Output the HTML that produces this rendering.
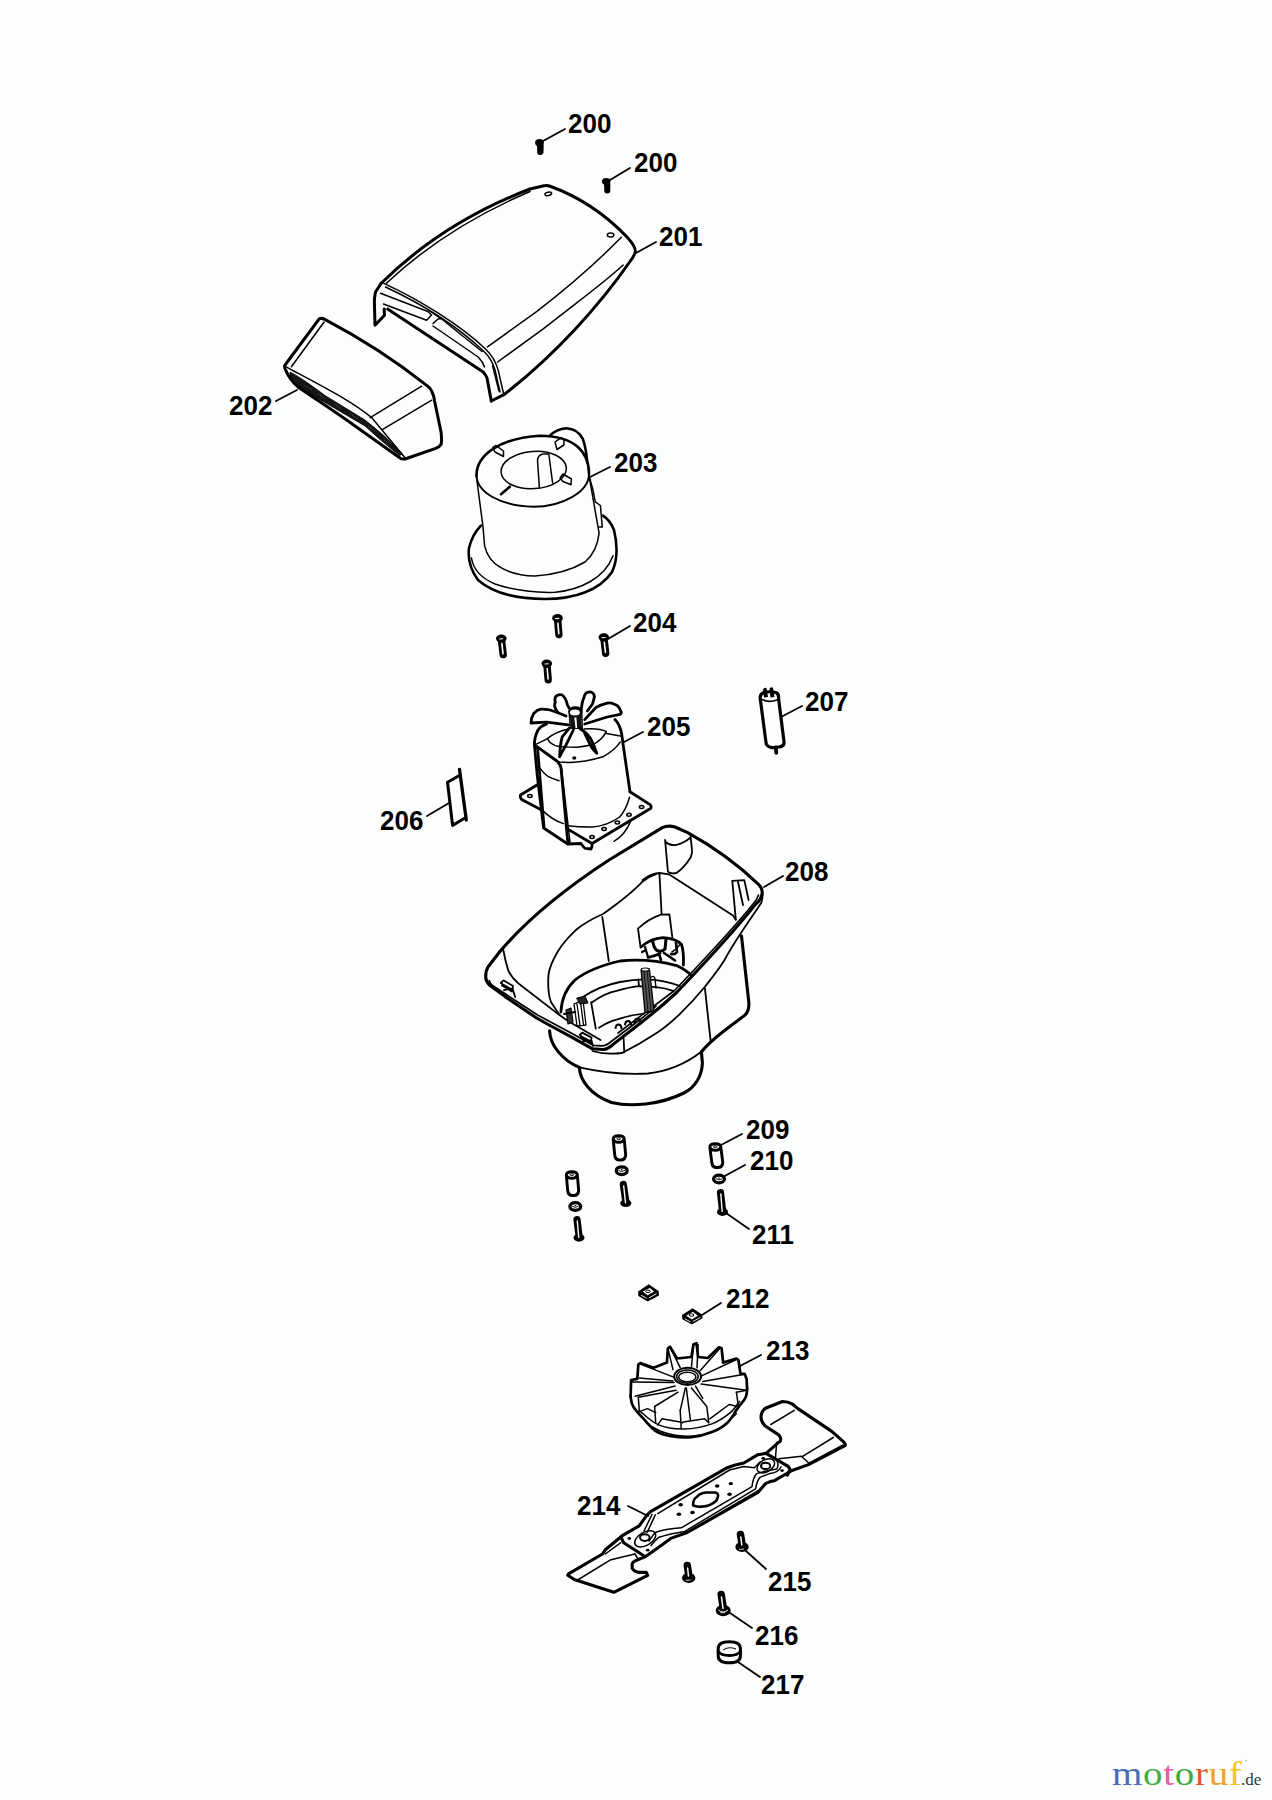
<!DOCTYPE html>
<html><head><meta charset="utf-8"><style>
html,body{margin:0;padding:0;background:#fbfefc;width:1272px;height:1800px;overflow:hidden}
svg{position:absolute;left:0;top:0}
.lb{font-family:"Liberation Sans",sans-serif;font-weight:bold;font-size:26px;fill:#000}
.k{fill:none;stroke:#000;stroke-linecap:round;stroke-linejoin:round}
</style></head><body>
<svg width="1272" height="1800" viewBox="0 0 1272 1800">

<!-- 200 screws -->
<g fill="#000" stroke="none">
<ellipse cx="539.5" cy="142.8" rx="4.4" ry="3.7"/>
<path d="M537 144.5 L543.7 144.5 L543.5 152.5 Q543 155 540.3 155 Q537.3 155 537.2 152.5 Z"/>
<ellipse cx="606.2" cy="181.4" rx="4.2" ry="3.4"/>
<path d="M604 183 L610.3 183 L610.3 191 Q610 193.5 607.2 193.5 Q604.5 193.5 604.3 191 Z"/>
</g>
<!-- 201 cover -->
<g class="k" stroke-width="3">
<path d="M381.3 283.2 C420 245 470 212 530 189 L544 185.7 Q547 185 549.5 186 C580 197 605 214 627 237 Q637 248 635 253 Q633 258 630.7 260.5 C600 305 555 355 503.9 394.7 L491.3 401"/>
<path d="M381.3 283.2 L375.5 292 Q374.2 298 374.4 303 L375 325.3 L384.5 315.3 L384.2 309"/>
<path d="M387.6 309 L483.2 371.9 Q486 375 487 378 L491.3 401"/>
</g>
<g class="k" stroke-width="1.5">
<path d="M386.4 283.2 C425 247 475 215 530 191.5"/>
<path d="M383.8 283.4 C420 300 460 325 485.8 349.2 Q495 358 498.3 370.6 L503.4 393"/>
<path d="M385.5 287 C422 304 458 327 483.5 351 Q492 359 495 370 L500 392"/>
<path d="M380.5 293.2 L427.9 311.5 L431.5 315 L426.6 320.3 L383.5 304"/>
<path d="M433 323.5 L438 319 L441 318.5 L482 351.5"/>
<path d="M433 326 L478.2 357 Q483 362 484.5 367"/>
<path d="M429 310.5 L435 314.5 L440.5 318.4"/>
<path d="M621.3 237.3 C605 254 575 282 536.6 311.6 L487.5 346.9"/>
<path d="M623.1 265 C605 282 580 300 542.9 329.2 L497.6 362"/>
<path d="M492.6 365.7 L498.9 390.9"/>
<ellipse cx="548.3" cy="193.9" rx="3.4" ry="1.6" transform="rotate(-12 548.3 193.9)"/>
<ellipse cx="610.6" cy="235.1" rx="3.3" ry="2"/>
</g>
<!-- 202 grille -->
<g class="k" stroke-width="3">
<path d="M319.4 318.7 Q322 317.8 324.8 319.4 C360 338 392 358 425 384.2 Q431 388 432 392 Q434 396 434.4 400.2 L441.1 432.3 Q442 441 441.1 444.4 Q439.5 447 435.7 448.4 L405 459 Q401.5 459.5 399.7 457.7 L358.2 428.3 C340 415 320 402 298 386.9 Q290 380 286 370.8 Q284 367 284.7 365.5 Z"/>
</g>
<g class="k" stroke-width="1.5">
<path d="M291.4 366.8 L324.1 322"/>
<path d="M286 366.8 C320 385 350 400 371.6 417.6 L405 457.7"/>
<path d="M370.2 417.6 L421.7 386.2"/>
<path d="M382.3 429.6 L431.7 400.2"/>
</g>
<path d="M290 372 C300 377 315 388 325 395.5 L365 420 Q385 435 402.5 454 L399.5 455.5 Q380 440 365 426 L325 402.5 C312 395 300 388 293 381 Q289 376 290 372 Z" fill="#151515" stroke="#000" stroke-width="0.8"/>
<path d="M305 386 L312 390 M318 394 L326 399 M334 404 L342 409 M350 414 L358 419 M368 426 L375 431 M384 440 L390 445" stroke="#666" stroke-width="0.9" stroke-dasharray="1 1.5"/>
<!-- 203 housing -->
<g class="k" stroke-width="2.6">
<path d="M476.5 476 C476 455 500 438 540 435.7 C575 436 589 452 589 474"/>
<path d="M550 435.7 Q556 429 566.4 428.2 Q578 429 582.8 438.9 Q586 448 587 460"/>
<path d="M480.9 525.7 Q472 535 469 548 Q467 565 478 580 C495 595 520 599 545 599 C575 599 600 590 612 572 Q620 555 614 530 Q610 520 603 515.6"/>
</g>
<g class="k" stroke-width="1.5">
<path d="M476.5 477 L483 527 L484.6 545.8 Q488 560 500 567.2 Q515 576 535 576 Q565 574 585 562 Q597 552 599.1 533.2 L589 475.3"/>
<path d="M589 476 L592.8 489.2 L595.3 501.8 L600.4 505.5 L602.3 526.9 L599.1 526.9"/>
<ellipse cx="533.7" cy="470" rx="32.7" ry="18.6" transform="rotate(-4 533.7 470)"/>
<path d="M471.5 558 Q474 575 495 584 C515 591 540 593 555 592.3 C580 590 605 578 613 555.8"/>
<path d="M539.4 487.9 L537.5 460.3 Q538 455 543 454 L548.8 454 L552.6 482.9"/>
<path d="M492.8 447.5 L496 445.5 L503.5 451 L503.5 456.5 L495 452 Z"/>
<path d="M555 442 L561 437.6 L564 440 L563.9 445 L557 449.5 Z"/>
<path d="M560.1 478 L563 474 L571.4 479 L571 484.8 L563 481.5 Z"/>
<path d="M589 474 C589 492 562 506.8 533.7 506.8 C500 506 476.5 492 476.5 475" stroke-width="1.9"/>
<path d="M501 494.2 L509.8 486.7" stroke-width="2.6"/>
</g>
<!-- 204 screws -->
<g id="scr">
<g><path d="M501.3 638.6 L503.2 654.6" stroke="#000" stroke-width="7.4" stroke-linecap="round"/>
<path d="M501.9 643.4 L503.0 653.8" stroke="#fff" stroke-width="1.6" stroke-linecap="round"/>
<ellipse cx="501.3" cy="638.6" rx="5.3" ry="4.1" fill="#000"/>
<path d="M499.1 639.0 L503.1 638.8000000000001" stroke="#fff" stroke-width="1.1"/></g>
<g><path d="M557.5 618.2 L558.9 634.5" stroke="#000" stroke-width="7.4" stroke-linecap="round"/>
<path d="M557.9 623.1 L558.8 633.7" stroke="#fff" stroke-width="1.6" stroke-linecap="round"/>
<ellipse cx="557.5" cy="618.2" rx="5.3" ry="4.1" fill="#000"/>
<path d="M555.3 618.6 L559.3 618.4000000000001" stroke="#fff" stroke-width="1.1"/></g>
<g><path d="M546.8 663.6 L548.2 679.8" stroke="#000" stroke-width="7.4" stroke-linecap="round"/>
<path d="M547.2 668.5 L548.1 679.0" stroke="#fff" stroke-width="1.6" stroke-linecap="round"/>
<ellipse cx="546.8" cy="663.6" rx="5.3" ry="4.1" fill="#000"/>
<path d="M544.5999999999999 664.0 L548.5999999999999 663.8000000000001" stroke="#fff" stroke-width="1.1"/></g>
<g><path d="M603.8 637.3 L605.7 653.3" stroke="#000" stroke-width="7.4" stroke-linecap="round"/>
<path d="M604.3 642.1 L605.5 652.5" stroke="#fff" stroke-width="1.6" stroke-linecap="round"/>
<ellipse cx="603.8" cy="637.3" rx="5.3" ry="4.1" fill="#000"/>
<path d="M601.5999999999999 637.6999999999999 L605.5999999999999 637.5" stroke="#fff" stroke-width="1.1"/></g>
</g>
<!-- 205 motor -->
<path d="M568.4 712 L569.5 729 L583 729 L582.5 712 Z" fill="#111"/>
<path d="M574.3 717.5 L575.5 728 L577.2 728 L576.4 717.5 Z" fill="#fff"/>
<ellipse cx="575.4" cy="711.3" rx="7.2" ry="5" fill="#000"/>
<ellipse cx="574.9" cy="712.5" rx="5" ry="2.9" fill="#fff"/>
<path d="M570 718 L570.6 726 M581.3 718 L581.6 726" stroke="#777" stroke-width="0.8" stroke-dasharray="1 1.5"/>
<g class="k" stroke-width="2.8">
<path d="M557.9 712.7 Q553 706 555.3 702.3 Q554 697 557 695.4 Q560 694 562.2 695 Q566 698 567.4 704.9 L569.1 708"/>
<path d="M581.2 710 Q582 702 583.8 698 Q585 693 587.3 692.4 Q591 691 592.5 692.8 Q595 695 594.2 698 Q593 702 592.5 704 L587.3 711"/>
<path d="M568.3 724.8 L546.6 722.2 L531 723 Q531 718 533.7 713.5 Q537 710 540.6 709.2 Q545 709 550.1 710 L557.9 712.7 L566 716"/>
<path d="M584.7 724 L607.2 717 L620.2 714.4 Q622 712 621 711.8 Q619 706 615.8 704.9 Q611 702 607.2 703.2 Q600 705 595.9 707.5 L584.7 719.6"/>
<path d="M569.1 728.3 L562.2 736.9 Q560 745 559.6 756.8 Q562 752 565.7 745.6 L573.4 730"/>
<path d="M579.5 728.3 Q586 732 590.7 738.6 Q594 745 596.8 753.3 Q592 749 590.7 745.6 L584.7 733.4"/>
<path d="M534.5 745.6 Q534 738 538 730 Q541 726 546.6 723.9"/>
<path d="M615 719.6 Q620 724 621.9 735.2 L622.9 743.3 L630 791.7"/>
<path d="M534.5 745.6 L537.2 775 L543.6 828 L567.8 844 L581 843.5 Q584 848 585.4 848.4 L591 849 Q592.5 846 592 843.5 L650.9 808.2 Q651.5 806 650.4 804.9 L630 791.7"/>
<path d="M537 785 L520.5 795 Q520 798 521.6 799.4 L542.5 810.4"/>
<path d="M537 746.6 L556.8 761 Q560 764 561 768 L567.8 842.4"/>
<path d="M567.8 829.1 L592 843.5"/>
<path d="M537.5 747.5 L544 827"/>
</g>
<g class="k" stroke-width="1.5">

<path d="M547.5 738.6 Q555 732 568.3 729 M584 729 Q600 728 606.3 731.7 Q602 740 594.2 743.8 Q585 747 576.9 747.3 Q560 747 555.3 745.6 Q549 743 547.5 738.6"/>
<path d="M535.4 744.7 L547.5 738.6 M606.3 733.4 L620.2 736"/>
<path d="M534.5 745.6 C545 752 552 758 559.6 762 Q580 764 602.9 756.8 Q615 750 620.2 742.1"/>
<path d="M561.2 765.3 L570 842.4"/>
<path d="M538.7 766.4 Q544 774 548 776.3 Q553 779 559 780.7"/>
<path d="M542.5 810.4 Q552 820 563.4 823.6"/>
<path d="M629.5 797.2 Q626 810 619.6 817 Q607 826 592 827 Q578 827 567.8 825.8"/>
<path d="M630.6 821.4 Q625 835 614 841.3"/>
<ellipse cx="529.9" cy="796.1" rx="2.2" ry="1.5"/>
<ellipse cx="641.6" cy="807.1" rx="2.2" ry="1.5"/>
<ellipse cx="629" cy="814.8" rx="2.2" ry="1.5"/>
<ellipse cx="617.4" cy="822.5" rx="2.2" ry="1.5"/>
<ellipse cx="604.1" cy="829.1" rx="2.2" ry="1.5"/>
<ellipse cx="592" cy="836.9" rx="2.2" ry="1.5"/>
<ellipse cx="574.3" cy="758.1" rx="1.3" ry="1" fill="#000"/>
</g>
<!-- 206 -->
<g class="k" stroke-width="3">
<path d="M458.5 776 L447.5 782.3 L452.6 825.4 L464.5 818.3"/>
<path d="M459.5 769.5 L466.3 820" stroke-width="3.3"/>
</g>
<!-- 207 -->
<g class="k" stroke-width="3.2">
<path d="M760.3 699 Q759.5 694 764 692.5 Q770 691 776 692.5 Q779 694 778.5 698 L784 741.7 Q784.5 746 780 746.8 Q775 748 771 747.3 Q766.5 746.5 766 742.6 Z"/>
<path d="M775.8 747.5 L776.3 752.8" stroke-width="3.8"/>
</g>
<g class="k" stroke-width="1.6">
<path d="M762.2 699.5 Q768 703 777 700"/>
</g>
<g fill="#000">
<path d="M763 689.5 Q764.5 687 766.5 688 L768 697 L764 697.5 Z"/>
<path d="M769.5 688.5 Q771.5 686.5 773 688 L774.5 697 L770.5 697.5 Z"/>
</g>
<!-- 208 housing -->
<g class="k" stroke-width="3.1">
<path d="M485.7 977.7 Q485.5 971 488 967 L500.1 951.3 C525 922 560 892 609 860 L662.3 827.7 Q668 825 675 827 L687.7 832.7 C710 845 735 862 758.5 884.3 Q763 889 762 894 Q761 900 755.7 904.1 C735 930 700 968 676.6 992.5 Q660 1008 640 1023.4 L613.7 1043.9 Q608 1049.5 603.1 1049.5 L592.5 1048.8 L571.2 1036.8 L550 1025.5 L536.6 1018 L505.2 996.6 L490 985.5 Q486 982 485.7 977.7 Z"/>
<path d="M579.3 1067.4 C580 1080 590 1095 611.5 1102.5 C630 1107 660 1105 683.8 1093 C696 1087 702 1075 702.4 1063 L701.4 1051.9"/>
<path d="M549.6 1030.7 C550 1045 562 1060 579.3 1067.4"/>
<path d="M741.5 936 L748.8 1002 Q749.5 1011 745 1015 C730 1027 712 1038 701.4 1052"/>
</g>
<g class="k" stroke-width="1.8">
<path d="M489.2 980.5 Q490 983.5 492.5 985.5 L507 995 L538 1015.2 L551.5 1022.6 L572.5 1033.8 L593 1045.3 L602.5 1045.8 Q607.5 1045.5 611.5 1041.2 L638.5 1020.8 Q650 1012 656 1006" stroke-width="1.7"/>
<path d="M758.5 895 Q757 900 753 904 C733 929 698 966 674.5 990.5 L618 1033" stroke-width="1.6"/>
<path d="M762.7 894.2 Q762.5 899 761.3 902.7 C750 920 735 940 724.5 960 C717 972 710 980 704.9 986.8 C690 1005 670 1025 655 1034 Q640 1044 622 1053 Q605 1055 592.5 1051"/>
<path d="M623.6 1038.2 L624.3 1052.4"/>
<path d="M579.3 1067.4 C600 1072 625 1075 648 1073.5 C670 1071 688 1062 701 1052"/>
<path d="M503.3 950 Q505 960 508.5 971.2 Q512 978 518.5 983.5 L559.5 1015.1 L568 1021 L600.5 1040"/>
<path d="M656 874.2 Q648 877 643 881.2 Q630 895 603.4 913.8 Q585 922 575 930.8 Q560 945 553.8 959 Q548 970 548.2 980.3 Q548 995 551 1002 L559.5 1015"/>
<path d="M642.5 880.1 Q650 874 659.4 873 L669.3 874.4 L733 915.5 L735.8 919.7"/>
<path d="M602.3 916.8 L608.8 961"/>
<path d="M659.4 873 L661.6 914"/>
<path d="M704.9 988.2 L710.6 1040.6"/>
<path d="M583.6 996.5 Q600 986 620 982 Q645 977 663.8 981.4 Q672 983 680 986"/>
<path d="M592.1 1002.2 Q605 993 616.6 990.8 Q630 987 638.3 986.1 L656.2 987.1 Q665 988 673.2 990.8"/>
<path d="M591.1 1002.2 L595.8 1028.6 M638.3 979.5 L639 986"/>
<path d="M599.1 1027.8 Q607 1022 617.5 1019.3 Q630 1015 644 1013.7"/>
<path d="M665.1 839.8 L667.9 871.6 Q670 874 676.4 873 Q684 868 690.6 857.5 Q692.5 852 692 850.4 L690.6 836.2"/>
<path d="M665.5 842 Q670 846 676 845 Q684 843 690 838"/>
<path d="M732.3 880.8 L744.3 880.1 L748.6 900 M732.3 880.8 L735.8 919.7 M738 882 L743 905"/>
<path d="M638 928.7 L640.5 946.8 M638 928.7 Q648 919 660.8 914.6 L669.4 914.4 L672.4 938"/>
<path d="M500.8 983 L503.5 980.3 L513 986 L512.5 990 L503 984.5 Z M502 985.5 L512 991.5 M504 990 L512.5 988.5 L515.2 997"/>
<path d="M579.7 1035 L582.2 1032.6 L591.5 1037.6 L591 1041.5 L582 1036.8 Z M581 1037.8 L590.5 1043 M583 1041 L591.5 1040.5 L593 1046"/>
<path d="M615.5 1028 Q616 1024.5 618.5 1024.5 Q621 1024.5 621.5 1028 M625 1024.5 Q625.5 1021 628 1021 Q630.5 1021 631 1024.5" stroke-width="2"/>
<path d="M634.5 1023 Q635 1019 637.5 1019 Q640 1019 640.5 1022" stroke-width="2.4"/>
</g>
<g class="k" stroke-width="2.8">
<path d="M560.9 1012 Q562 992 575 980 Q590 968 620 961 Q648 958 676.6 965.6 Q686 970 692 976"/>
<path d="M641 947 Q650 939 663 937.7 Q676 938.5 681.5 944.5 Q684 952 683.4 965"/>
<path d="M652.5 940 Q653.5 948 657 950.5 Q662 952.5 665 949 L666 939" stroke-width="3"/>
<path d="M676 942.5 L677 952 Q675 955 671 954" stroke-width="2.6"/>
<path d="M645 947 L648 957 M642 952 L646 950" stroke-width="2.2"/>
<path d="M648 957.5 Q655 956 660 953.5 M664 953 L670 957 L675 960.5 M659 954 L661 960" stroke-width="2.6"/>
<path d="M672 952 Q678 948 680 944" stroke-width="1.6"/>
</g>
<g class="k" stroke-width="1.1">
<path d="M641.1 970 L649.4 969.2 L654 1011 L645 1012.5 Z" fill="#555" stroke-width="1.3"/>
<path d="M644 971 L648 1012 M647 970 L651 1011" stroke="#000" stroke-width="0.8"/>
<ellipse cx="645.3" cy="969.6" rx="4" ry="1.6" fill="#fff" stroke-width="1.2"/>
<path d="M651.5 977 Q654 975 655 979 L656 988" stroke-width="1.4"/>
<path d="M566 1010 L571 1008 L573 1022 L568 1024 Z" fill="#333" stroke-width="1.2"/>
<path d="M574 1004 L583 1000 L586 1025 L577 1026 Z M577 1004 L580 1026 M580.5 1002 L583.5 1025" stroke-width="1.3"/>
<path d="M577 998 L585 996 L588 1003 L580 1004 Z" fill="#222" stroke-width="1"/>
<path d="M564 1014 L575 1012" stroke-width="2"/>

</g>
<!-- 209-211 -->
<g class="k" stroke-width="2.9">
<path d="M566.3 1175 L567.7 1190.5 Q568.2 1195.8 573.2 1195.47 Q578.2 1195.8 578.7 1190.5 L577.3 1175 Q577.3 1171.7 571.8 1171.7 Q566.3 1171.7 566.3 1175 Q567.3 1178.3 571.8 1178.3 Q576.3 1178.3 577.3 1175"/>
</g><ellipse cx="571.8" cy="1174.7" rx="1.8" ry="0.9" fill="none" stroke="#000" stroke-width="0.9"/>
<ellipse cx="575.3" cy="1206.5" rx="5.4" ry="3.9" fill="none" stroke="#000" stroke-width="3.3"/>
<path d="M572.0999999999999 1206.2 Q575.3 1208.5 578.5 1206.2" fill="none" stroke="#000" stroke-width="0.9"/>
<ellipse cx="575.3" cy="1205.6" rx="1" ry="0.7" fill="#000"/>
<g><path d="M577 1219.5 L579 1235.8" stroke="#000" stroke-width="7.2" stroke-linecap="round"/>
<ellipse cx="579" cy="1237.8" rx="5.5" ry="3.9" fill="#000"/>
<path d="M577.3 1221.0 L578.7 1237.3" stroke="#fff" stroke-width="1.4" stroke-linecap="round"/></g>
<g class="k" stroke-width="2.9">
<path d="M613.2 1139 L614.7 1155 Q615.2 1160.3 620.2 1159.97 Q625.2 1160.3 625.7 1155 L624.2 1139 Q624.2 1135.7 618.7 1135.7 Q613.2 1135.7 613.2 1139 Q614.2 1142.3 618.7 1142.3 Q623.2 1142.3 624.2 1139"/>
</g><ellipse cx="618.7" cy="1138.7" rx="1.8" ry="0.9" fill="none" stroke="#000" stroke-width="0.9"/>
<ellipse cx="621.7" cy="1170.7" rx="5.4" ry="3.9" fill="none" stroke="#000" stroke-width="3.3"/>
<path d="M618.5 1170.4 Q621.7 1172.7 624.9000000000001 1170.4" fill="none" stroke="#000" stroke-width="0.9"/>
<ellipse cx="621.7" cy="1169.8" rx="1" ry="0.7" fill="#000"/>
<g><path d="M623.3 1184.5 L625.8 1201.2" stroke="#000" stroke-width="7.2" stroke-linecap="round"/>
<ellipse cx="625.8" cy="1203.2" rx="5.5" ry="3.9" fill="#000"/>
<path d="M623.7 1186.0 L625.5 1202.7" stroke="#fff" stroke-width="1.4" stroke-linecap="round"/></g>
<g class="k" stroke-width="2.9">
<path d="M709.8 1147 L711.8 1162.5 Q712.3 1167.8 717.3 1167.47 Q722.3 1167.8 722.8 1162.5 L720.8 1147 Q720.8 1143.7 715.3 1143.7 Q709.8 1143.7 709.8 1147 Q710.8 1150.3 715.3 1150.3 Q719.8 1150.3 720.8 1147"/>
</g><ellipse cx="715.3" cy="1146.7" rx="1.8" ry="0.9" fill="none" stroke="#000" stroke-width="0.9"/>
<ellipse cx="719" cy="1179" rx="5.4" ry="3.9" fill="none" stroke="#000" stroke-width="3.3"/>
<path d="M715.8 1178.7 Q719 1181 722.2 1178.7" fill="none" stroke="#000" stroke-width="0.9"/>
<ellipse cx="719" cy="1178.1" rx="1" ry="0.7" fill="#000"/>
<g><path d="M720.5 1192.5 L722.5 1210" stroke="#000" stroke-width="7.2" stroke-linecap="round"/>
<ellipse cx="722.5" cy="1212" rx="5.5" ry="3.9" fill="#000"/>
<path d="M720.8 1194.0 L722.2 1211.5" stroke="#fff" stroke-width="1.4" stroke-linecap="round"/></g>
<!-- 212 nuts -->
<g fill="#000">
<path d="M638.1 1291.6 L648.7 1284.2 L658.6 1290.9 L659 1295.5 L647.6 1301.5 L638.4 1295.9 Z"/>
<path d="M682 1315 L692.6 1308.3 L702.1 1314.6 L702.5 1318.2 L691.9 1324.5 L682.3 1319.2 Z"/>
</g>
<g fill="#fff">
<path d="M642.7 1291.6 L649.8 1288.1 L654 1291.6 L647.6 1295.2 Z"/>
<path d="M686.2 1315.7 L692.9 1311.8 L697.9 1315.7 L691.9 1319.6 Z"/>
</g>
<g fill="none" stroke="#000" stroke-width="1">
<ellipse cx="648" cy="1291.4" rx="2.3" ry="1.3"/>
<ellipse cx="691.5" cy="1315" rx="2.3" ry="1.3"/>
<path d="M641 1295.2 L646.5 1298.2 M649 1297.8 L656.5 1293.8 M684.8 1318.8 L690.3 1321.8 M693 1321.4 L700.5 1317.4" stroke="#fff" stroke-width="0.9"/>
</g>
<!-- 213 fan -->
<g class="k" stroke-width="2.7">
<path d="M630.6 1396.3 L631.1 1380.0 637.3 1378.9 638.3 1364.6 640.3 1363.1 653.6 1367.7 666.9 1362.6 667.9 1348.3 670.0 1346.8 677.1 1358.5 691.4 1357.0 693.5 1344.2 696.5 1343.2 698.1 1357.0 707.8 1358.0 719.0 1347.3 721.6 1348.3 723.1 1362.6 736.4 1358.5 738.4 1360.0 740.5 1373.8 744.6 1373.8 746.6 1378.9 747.1 1389.2"/>
<path d="M747.1 1389.2 C746.9 1390.5 747.2 1394.1 745.6 1397.3 C744.0 1400.6 740.5 1404.3 737.4 1408.6 C734.4 1412.8 731.5 1419.0 727.2 1422.9 C722.9 1426.8 717.8 1429.7 711.9 1432.1 C705.9 1434.5 698.2 1436.5 691.4 1437.2 C684.6 1437.9 677.0 1437.2 671.0 1436.2 C665.0 1435.2 659.9 1433.6 655.7 1431.1 C651.4 1428.5 649.2 1424.9 645.4 1420.8 C641.7 1416.8 635.6 1410.6 633.2 1406.5 C630.7 1402.5 631.0 1398.0 630.6 1396.3"/>
</g>
<g class="k" stroke-width="1.5">
<ellipse cx="687.6" cy="1376.4" rx="13.4" ry="8.6" stroke-width="2"/>
<ellipse cx="687.3" cy="1377" rx="8.6" ry="4.8"/>
<ellipse cx="687.4" cy="1376.6" rx="10.8" ry="6.6"/>
<path d="M667.9 1348.3 L673.0 1369.7"/>
<path d="M670.0 1346.8 L680.2 1367.7"/>
<path d="M693.5 1344.2 L691.4 1367.7"/>
<path d="M698.1 1344.7 L697.0 1367.7"/>
<path d="M720.0 1348.3 L700.1 1370.8"/>
<path d="M722.1 1349.3 L723.1 1362.6"/>
<path d="M736.4 1359.5 L701.6 1375.9"/>
<path d="M744.6 1374.3 L702.7 1381.5"/>
<path d="M746.6 1390.2 L701.1 1384.1"/>
<path d="M640.3 1364.1 L673.0 1376.9"/>
<path d="M639.3 1377.9 L673.0 1381.0"/>
<path d="M632.2 1382.0 L674.1 1382.5"/>
<path d="M635.2 1396.3 L675.1 1386.1"/>
<path d="M638.3 1397.3 L676.1 1390.2"/>
<path d="M639.3 1410.6 L638.3 1397.3"/>
<path d="M654.6 1406.5 L678.1 1392.2"/>
<path d="M654.6 1406.5 L655.7 1422.9"/>
<path d="M680.2 1410.6 L685.3 1388.1"/>
<path d="M680.2 1410.6 L681.2 1428.0"/>
<path d="M691.4 1388.1 L706.8 1406.5 708.8 1422.9"/>
<path d="M686.3 1388.1 L690.4 1419.8"/>
<path d="M695.5 1386.1 L702.7 1398.4"/>
<path d="M736.4 1392.2 L738.4 1406.5"/>
<path d="M746.6 1390.2 L736.4 1392.2"/>
<path d="M639.3 1411.6 L647.5 1408.6 655.7 1412.7"/>
<path d="M657.7 1424.9 L661.8 1418.8 680.2 1421.9"/>
<path d="M682.2 1422.9 L683.3 1421.9 704.7 1418.8 707.8 1421.9"/>
<path d="M709.8 1418.8 L729.2 1404.5 737.4 1406.5"/>
<path d="M639.3 1410.6 C642.5 1413.0 651.2 1421.9 658.7 1424.9 C666.2 1428.0 675.4 1429.2 684.3 1429.0 C693.1 1428.9 704.2 1426.6 711.9 1423.9 C719.5 1421.2 725.7 1416.4 730.3 1412.7 C734.9 1408.9 737.9 1403.3 739.5 1401.4"/>
<path d="M648.5 1424.9 C651.4 1426.3 658.7 1431.2 665.9 1433.1 C673.0 1435.0 682.9 1436.7 691.4 1436.2 C699.9 1435.7 709.5 1433.8 717.0 1430.0 C724.5 1426.3 733.2 1416.4 736.4 1413.7"/>
</g>
<!-- 214 blade -->
<g class="k" stroke-width="3.1">
<path d="M766 1453.4 L779 1442.2 Q782.5 1439.8 779 1435.1 L764.9 1425.7 Q760 1420 761.3 1415 Q762 1410 766 1408 L782.5 1401.5 Q788 1401.5 792 1403.8 L797.9 1408.6 L832.1 1431.6 L843.9 1442.2 Q846 1444.5 845 1445.7 L839.2 1448.7 L808.5 1464.6 L792 1470.5 L774.4 1480.7 Q768 1481.5 765 1484.2 L757.9 1492.5 L687.2 1532.5 L670.7 1538.4 L657.7 1547.9 L644.9 1556.9 L637.8 1559.7 Q632.5 1561.5 632.2 1564 L632.2 1568.2 Q634 1571.5 639.2 1572.4 L646.3 1572.4 L647.7 1575.3 L613.8 1592.3 L574.2 1579.5 L567.8 1575.3 L568.5 1573.9 L602.5 1554 L605.3 1549.8 L622.3 1535.7 L639.2 1525.8 L646.3 1515.8 L650.6 1511.6 L727.3 1467.7 L734.3 1465.3 L743.8 1463 L757.9 1454.7 Z"/>
<path d="M620.8 1537 L623.7 1542.7 L643.5 1555.5"/>
<path d="M766 1453.4 L787.3 1465.8 Q790.5 1468.5 789.6 1470.5 L787.3 1475.2"/>
</g>
<g class="k" stroke-width="1.5">
<path d="M770.8 1424.5 L794.3 1410.3"/>
<path d="M802.6 1456.3 L833.3 1437.5"/>
<path d="M779 1458.7 L801.4 1456.3 L808.5 1462.8"/>
<path d="M808.5 1463.5 L842.7 1445.1"/>
<path d="M776.7 1442.2 L775.5 1457.5"/>
<path d="M578.4 1579.5 L610.9 1559.7 L635 1554"/>
<path d="M605.3 1554 L620.8 1542.7"/>
<path d="M635 1554 L638 1559"/>
<path d="M657.7 1513.7 L729.6 1470 L743.8 1466.5 L754.4 1467.7 L760 1462"/>
<path d="M655.3 1514.9 L647.1 1532.5 M652 1514.5 L644 1531"/>
<path d="M649 1541 Q653 1535 655.3 1532.5 Q665 1529 681.3 1527.8 L752 1486.6 Q753 1478 756.7 1473.6 L765 1471.2 L776.8 1468.9 Q779 1465 777 1461"/>
<path d="M651 1545.5 Q655 1540 658.9 1537.3 Q670 1533.5 684.8 1531.4 L755.6 1488.9 Q757 1480 760.3 1477.1 L769.7 1473.6 Q778 1473 781 1467"/>
<path d="M684.8 1533.8 L757.9 1490.9" stroke-dasharray="1.2 1.6" stroke-width="1.8"/>
<ellipse cx="645.2" cy="1538.9" rx="11.5" ry="6.5" transform="rotate(-30 645.2 1538.9)"/>
<ellipse cx="765.8" cy="1465.9" rx="9.5" ry="6" transform="rotate(-30 765.8 1465.9)"/>
</g>
<g class="k" stroke-width="2">
<ellipse cx="644.8" cy="1537.6" rx="4.8" ry="3.3"/>
<ellipse cx="765.6" cy="1465.9" rx="4.6" ry="3.2"/>
<path d="M693.1 1505.4 Q693 1499 696.6 1497.2 Q700 1493 706 1492.5 L715.5 1492.5 Q719 1493.5 717.8 1497.2 Q717 1501 713.1 1503.1 Q708 1506.5 701.3 1506.6 Q696 1507 693.1 1505.4 Z" stroke-width="2.6"/>
</g>
<g fill="#000">
<ellipse cx="680.7" cy="1504.8" rx="2.3" ry="1.7"/>
<ellipse cx="678.9" cy="1514.3" rx="2.3" ry="1.7"/>
<ellipse cx="692.5" cy="1512.5" rx="2.3" ry="1.7"/>
<ellipse cx="717.2" cy="1486" rx="2.3" ry="1.7"/>
<ellipse cx="730.8" cy="1483.6" rx="2.3" ry="1.7"/>
<ellipse cx="729.6" cy="1494.2" rx="2.3" ry="1.7"/>
<ellipse cx="782.1" cy="1470.6" rx="1.8" ry="1.4"/>
<ellipse cx="763.2" cy="1458.3" rx="1.8" ry="1.4"/>
<ellipse cx="647.7" cy="1550.2" rx="1.8" ry="1.4"/>
<ellipse cx="629.3" cy="1538.5" rx="1.8" ry="1.4"/>
</g>
<!-- 215/216 -->
<g><path d="M740.5 1534.5 L742 1544" stroke="#000" stroke-width="7.5" stroke-linecap="round"/>
<ellipse cx="742" cy="1547" rx="6.7" ry="5" fill="#000"/>
<path d="M740.8 1537.0 L741.8 1545.0" stroke="#fff" stroke-width="1.5" stroke-linecap="round"/>
<path d="M739 1549.3 L744 1549.1" stroke="#fff" stroke-width="0.8"/></g>
<g><path d="M687.3 1565.5 L688.7 1575" stroke="#000" stroke-width="7.5" stroke-linecap="round"/>
<ellipse cx="688.7" cy="1578" rx="6.7" ry="5" fill="#000"/>
<path d="M687.6 1568.0 L688.5 1576.0" stroke="#fff" stroke-width="1.5" stroke-linecap="round"/>
<path d="M685.7 1580.3 L690.7 1580.1" stroke="#fff" stroke-width="0.8"/></g>
<g><path d="M721.2 1594.5 L723.2 1607.5" stroke="#000" stroke-width="7.5" stroke-linecap="round"/>
<ellipse cx="723.2" cy="1610.5" rx="7.5" ry="5.8" fill="#000"/>
<path d="M721.5 1597.0 L723.0 1608.5" stroke="#fff" stroke-width="1.5" stroke-linecap="round"/>
<path d="M720.2 1612.8 L725.2 1612.6" stroke="#fff" stroke-width="0.8"/></g>
<path d="M718.5 1610 Q723 1614 728 1610" fill="none" stroke="#fff" stroke-width="1"/>
<!-- 217 cap -->
<g class="k" stroke-width="3">
<path d="M718.2 1648.6 Q718.2 1641.7 729.3 1641.7 Q740.4 1641.7 740.4 1648.6 L740.4 1656 Q740.4 1662.8 729.3 1662.8 Q718.2 1662.8 718.2 1656 Z"/>
<path d="M718.2 1651.5 Q721 1655.5 729.3 1655.5 Q737.6 1655.5 740.4 1651.5"/>
</g>
<path d="M723 1650 Q729 1646 736 1649" fill="none" stroke="#000" stroke-width="1"/>
<!-- logo -->
<g font-family="Liberation Serif" font-size="39" letter-spacing="0.7" transform="translate(0 1785.5) scale(1 0.89) translate(0 -1785.5)">
<text x="1112" y="1785.5"><tspan fill="#4b6db8">m</tspan><tspan fill="#43ad43">o</tspan><tspan fill="#e8609e">t</tspan><tspan fill="#3eab3e">o</tspan><tspan fill="#e2561f">r</tspan><tspan fill="#f0a132">u</tspan><tspan fill="#f2c618">f</tspan></text>
</g>
<text x="1241" y="1785" font-family="Liberation Serif" font-size="17" fill="#33332a">.de</text>
<circle cx="1246" cy="1760.5" r="0.7" fill="#888"/>
<g class="lb">
<text x="568" y="133" transform="translate(0 133) scale(1 1.055) translate(0 -133)">200</text>
<text x="634" y="172" transform="translate(0 172) scale(1 1.055) translate(0 -172)">200</text>
<text x="659" y="246" transform="translate(0 246) scale(1 1.055) translate(0 -246)">201</text>
<text x="229" y="415" transform="translate(0 415) scale(1 1.055) translate(0 -415)">202</text>
<text x="614" y="472" transform="translate(0 472) scale(1 1.055) translate(0 -472)">203</text>
<text x="633" y="632" transform="translate(0 632) scale(1 1.055) translate(0 -632)">204</text>
<text x="647" y="736" transform="translate(0 736) scale(1 1.055) translate(0 -736)">205</text>
<text x="380" y="830" transform="translate(0 830) scale(1 1.055) translate(0 -830)">206</text>
<text x="805" y="711" transform="translate(0 711) scale(1 1.055) translate(0 -711)">207</text>
<text x="785" y="881" transform="translate(0 881) scale(1 1.055) translate(0 -881)">208</text>
<text x="746" y="1139" transform="translate(0 1139) scale(1 1.055) translate(0 -1139)">209</text>
<text x="750" y="1170" transform="translate(0 1170) scale(1 1.055) translate(0 -1170)">210</text>
<text x="752" y="1244" transform="translate(0 1244) scale(1 1.055) translate(0 -1244)">211</text>
<text x="726" y="1308" transform="translate(0 1308) scale(1 1.055) translate(0 -1308)">212</text>
<text x="766" y="1360" transform="translate(0 1360) scale(1 1.055) translate(0 -1360)">213</text>
<text x="577" y="1515" transform="translate(0 1515) scale(1 1.055) translate(0 -1515)">214</text>
<text x="768" y="1591" transform="translate(0 1591) scale(1 1.055) translate(0 -1591)">215</text>
<text x="755" y="1645" transform="translate(0 1645) scale(1 1.055) translate(0 -1645)">216</text>
<text x="761" y="1694" transform="translate(0 1694) scale(1 1.055) translate(0 -1694)">217</text>
</g>
<g class="k" stroke-width="1.8">
<path d="M543 141L565 129"/>
<path d="M610 180L630 168"/>
<path d="M636 253L656 242"/>
<path d="M276 401L297 390"/>
<path d="M590 477L610 467"/>
<path d="M608 639L630 626"/>
<path d="M624 742L643 732"/>
<path d="M427 816L449 803"/>
<path d="M781 717L802 706"/>
<path d="M764 887L783 876"/>
<path d="M721 1145L742 1134"/>
<path d="M723 1177L745 1165"/>
<path d="M726 1213L749 1229"/>
<path d="M702 1315L721 1303"/>
<path d="M740 1366L761 1355"/>
<path d="M628 1506L648 1516"/>
<path d="M746 1551L766 1569"/>
<path d="M730 1613L752 1628"/>
<path d="M738 1662L760 1677"/>
</g>
</svg>
</body></html>
